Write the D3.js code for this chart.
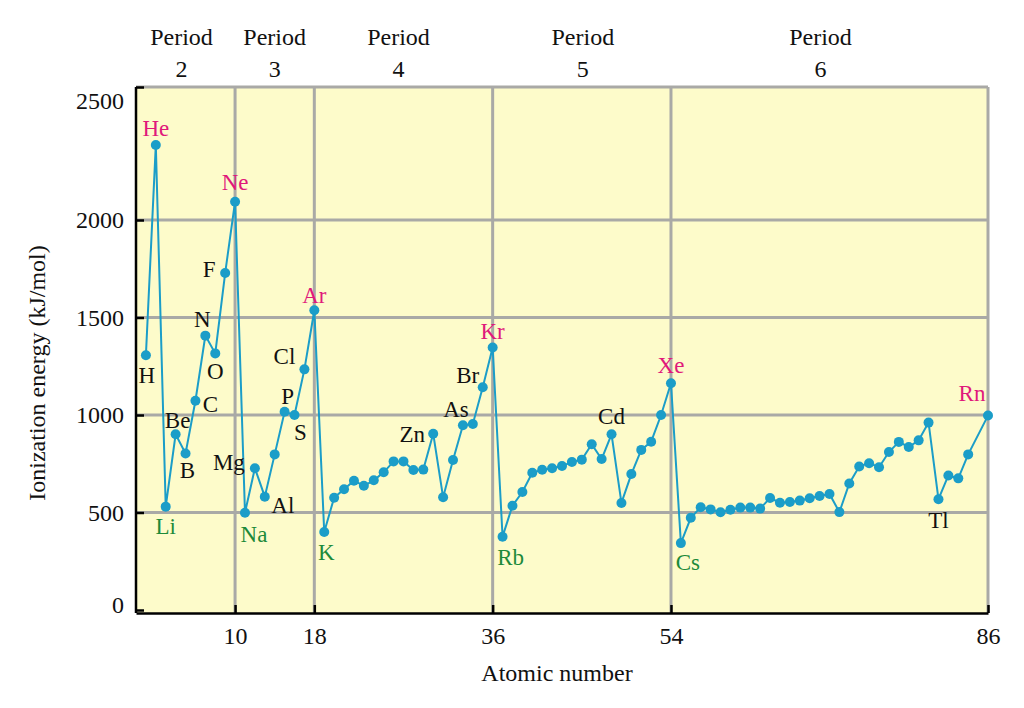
<!DOCTYPE html>
<html>
<head>
<meta charset="utf-8">
<script src="https://cdn.jsdelivr.net/npm/d3@7"></script>
<style>
  body { margin: 0; background: #fff; }
  text { font-family: "Liberation Serif", "Times New Roman", serif; }
</style>
</head>
<body>
<div id="chart"></div>
<script>
// Data
var symbols = ["H","He","Li","Be","B","C","N","O","F","Ne",
  "Na","Mg","Al","Si","P","S","Cl","Ar",
  "K","Ca","Sc","Ti","V","Cr","Mn","Fe","Co","Ni","Cu","Zn","Ga","Ge","As","Se","Br","Kr",
  "Rb","Sr","Y","Zr","Nb","Mo","Tc","Ru","Rh","Pd","Ag","Cd","In","Sn","Sb","Te","I","Xe",
  "Cs","Ba","La","Ce","Pr","Nd","Pm","Sm","Eu","Gd","Tb","Dy","Ho","Er","Tm","Yb","Lu",
  "Hf","Ta","W","Re","Os","Ir","Pt","Au","Hg","Tl","Pb","Bi","Po","Rn"];

var atomicNumbers = [1,2,3,4,5,6,7,8,9,10,
  11,12,13,14,15,16,17,18,
  19,20,21,22,23,24,25,26,27,28,29,30,31,32,33,34,35,36,
  37,38,39,40,41,42,43,44,45,46,47,48,49,50,51,52,53,54,
  55,56,57,58,59,60,61,62,63,64,65,66,67,68,69,70,71,
  72,73,74,75,76,77,78,79,80,81,82,83,84,86];

var energies = [1306,2385,530,901,803,1073,1407,1316,1728,2094,
  499,727,581,798,1017,1000,1234,1537,
  400,576,619,663,637,665,706,762,762,718,720,904,578,769,947,954,1142,1346,
  376,535,605,704,719,727,738,759,771,850,774,901,549,697,821,863,1000,1163,
  343,473,527,516,501,514,525,525,520,574,550,554,561,573,585,595,502,
  649,736,753,732,810,862,836,870,961,568,690,675,798,997];

var nobleGases = ["He","Ne","Ar","Kr","Xe","Rn"];
var alkaliMetals = ["Li","Na","K","Rb","Cs"];

var xTicks = [10, 18, 36, 54, 86];
var yTickValues = [0, 500, 1000, 1500, 2000, 2682];
var yTickLabels = ["0", "500", "1000", "1500", "2000", "2500"];
var periodEdges = [0, 10, 18, 36, 54, 86];
var periodNames = ["2", "3", "4", "5", "6"];

// label placement around each marked point (pixels)
var labelPlacement = [
  {s:"H", dx:1, dy:20}, {s:"He", dx:0, dy:-17}, {s:"Li", dx:0, dy:19},
  {s:"Be", dx:2, dy:-14}, {s:"B", dx:2, dy:17}, {s:"C", dx:15, dy:3},
  {s:"N", dx:-3, dy:-17}, {s:"O", dx:0, dy:18}, {s:"F", dx:-16, dy:-4},
  {s:"Ne", dx:0, dy:-20}, {s:"Na", dx:9, dy:21}, {s:"Mg", dx:-26, dy:-6},
  {s:"Al", dx:18, dy:8}, {s:"P", dx:3, dy:-16}, {s:"S", dx:6, dy:17},
  {s:"Cl", dx:-20, dy:-13}, {s:"Ar", dx:0, dy:-15}, {s:"K", dx:2, dy:20},
  {s:"Zn", dx:-21, dy:0}, {s:"As", dx:-7, dy:-16}, {s:"Br", dx:-15, dy:-12},
  {s:"Kr", dx:0, dy:-17}, {s:"Rb", dx:8, dy:20}, {s:"Cd", dx:0, dy:-18},
  {s:"Xe", dx:0, dy:-18}, {s:"Cs", dx:7, dy:19}, {s:"Tl", dx:0, dy:21},
  {s:"Rn", dx:-16, dy:-23}
];
var periodNudge = [-4, 0, -5, 1, -9];

var elements = symbols.map(function(s, i) {
  return {sym: s, z: atomicNumbers[i], e: energies[i]};
});

var width = 1024, height = 708;
var plot = {left: 136, right: 988, top: 87, bottom: 613};

var svg = d3.select("#chart")
  .append("svg")
    .attr("width", width)
    .attr("height", height);

var x = d3.scaleLinear()
  .domain([0, 86])
  .range([plot.left, plot.right]);

var y = d3.scaleLinear()
  .domain([0, 2682])
  .range([plot.bottom - 3, plot.top]);

// Background
svg.append("rect")
  .attr("x", plot.left)
  .attr("y", plot.top)
  .attr("width", plot.right - plot.left)
  .attr("height", plot.bottom - plot.top)
  .attr("fill", "#fdfbca");

// Grid
var gridColor = "#a9a9a6";
svg.append("g").selectAll("line")
  .data(yTickValues.slice(1))
  .enter().append("line")
    .attr("x1", plot.left).attr("x2", plot.right)
    .attr("y1", function(d) { return y(d); })
    .attr("y2", function(d) { return y(d); })
    .attr("stroke", gridColor)
    .attr("stroke-width", 3);

svg.append("g").selectAll("line")
  .data(xTicks)
  .enter().append("line")
    .attr("x1", function(d) { return x(d); })
    .attr("x2", function(d) { return x(d); })
    .attr("y1", plot.top).attr("y2", plot.bottom)
    .attr("stroke", gridColor)
    .attr("stroke-width", 3);

// Y axis
var yAxis = svg.append("g")
  .attr("transform", "translate(" + plot.left + ",0)")
  .call(d3.axisLeft(y)
    .tickValues(yTickValues)
    .tickFormat(function(d, i) { return yTickLabels[i]; })
    .tickSizeInner(-8)
    .tickSizeOuter(0)
    .tickPadding(12));
yAxis.select(".domain").remove();
yAxis.selectAll(".tick line").attr("stroke", "#000").attr("stroke-width", 2.5);
yAxis.selectAll(".tick text")
  .attr("font-size", 24)
  .attr("font-family", "Liberation Serif")
  .attr("fill", "#111")
  .attr("y", function(d, i) { return i === 0 ? -5 : (i === yTickValues.length - 1 ? 14 : 0); });

svg.append("line")
  .attr("x1", plot.left).attr("x2", plot.left)
  .attr("y1", plot.top).attr("y2", plot.bottom)
  .attr("stroke", "#000")
  .attr("stroke-width", 2.5);

// X axis
var xAxis = svg.append("g")
  .attr("transform", "translate(0," + plot.bottom + ")")
  .call(d3.axisBottom(x)
    .tickValues(xTicks)
    .tickSizeInner(-8)
    .tickSizeOuter(0)
    .tickPadding(14));
xAxis.select(".domain").attr("stroke", "#000").attr("stroke-width", 2.5);
xAxis.selectAll(".tick line").attr("stroke", "#000").attr("stroke-width", 2.5);
xAxis.selectAll(".tick text")
  .attr("font-size", 24)
  .attr("font-family", "Liberation Serif")
  .attr("fill", "#111");

// Axis titles
svg.append("text")
  .attr("x", 557)
  .attr("y", 681)
  .attr("text-anchor", "middle")
  .attr("font-size", 24)
  .attr("fill", "#111")
  .text("Atomic number");

svg.append("text")
  .attr("transform", "translate(45,373) rotate(-90)")
  .attr("text-anchor", "middle")
  .attr("font-size", 24)
  .attr("fill", "#111")
  .text("Ionization energy (kJ/mol)");

// Period headings
var periods = svg.append("g").selectAll("g")
  .data(periodNames)
  .enter().append("g")
    .attr("transform", function(d, i) {
      var cx = (x(periodEdges[i]) + x(periodEdges[i + 1])) / 2 + periodNudge[i];
      return "translate(" + cx + ",0)";
    });
periods.append("text")
  .attr("y", 45)
  .attr("text-anchor", "middle")
  .attr("font-size", 24)
  .attr("fill", "#111")
  .text("Period");
periods.append("text")
  .attr("y", 77)
  .attr("text-anchor", "middle")
  .attr("font-size", 24)
  .attr("fill", "#111")
  .text(function(d) { return d; });

// Line and points
var lineColor = "#1b9dc8";
var line = d3.line()
  .x(function(d) { return x(d.z); })
  .y(function(d) { return y(d.e); });

svg.append("path")
  .datum(elements)
  .attr("d", line)
  .attr("fill", "none")
  .attr("stroke", lineColor)
  .attr("stroke-width", 2);

svg.append("g").selectAll("circle")
  .data(elements)
  .enter().append("circle")
    .attr("cx", function(d) { return x(d.z); })
    .attr("cy", function(d) { return y(d.e); })
    .attr("r", 5)
    .attr("fill", lineColor);

// Element labels
var bySym = {};
elements.forEach(function(d) { bySym[d.sym] = d; });

svg.append("g").selectAll("text")
  .data(labelPlacement)
  .enter().append("text")
    .attr("x", function(d) { return x(bySym[d.s].z) + d.dx; })
    .attr("y", function(d) { return y(bySym[d.s].e) + d.dy; })
    .attr("dy", "0.35em")
    .attr("text-anchor", "middle")
    .attr("font-size", 23)
    .attr("fill", function(d) {
      if (nobleGases.indexOf(d.s) >= 0) return "#e0197b";
      if (alkaliMetals.indexOf(d.s) >= 0) return "#1d8a3a";
      return "#111";
    })
    .text(function(d) { return d.s; });
</script>
</body>
</html>
